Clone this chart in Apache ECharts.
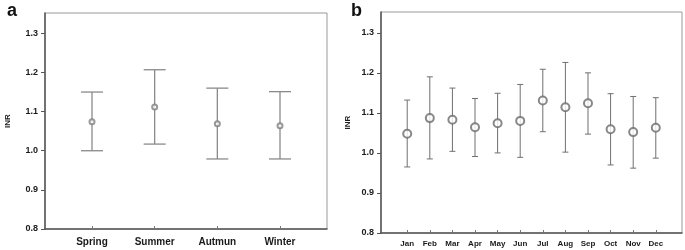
<!DOCTYPE html>
<html>
<head>
<meta charset="utf-8">
<script src="https://cdn.jsdelivr.net/npm/echarts@6/dist/echarts.min.js"></script>
<style>
    html, body { margin: 0; padding: 0; background: #fff; }
    #main { width: 685px; height: 250px; }
</style>
</head>
<body>
<div id="main"></div>
<script>
    // panel a - seasons
    const seasons = ['Spring', 'Summer', 'Autmun', 'Winter'];
    const seasonMean = [1.074, 1.112, 1.069, 1.064];
    const seasonLow = [1.000, 1.017, 0.979, 0.979];
    const seasonHigh = [1.150, 1.207, 1.160, 1.151];

    // panel b - months
    const months = ['Jan', 'Feb', 'Mar', 'Apr', 'May', 'Jun', 'Jul', 'Aug', 'Sep', 'Oct', 'Nov', 'Dec'];
    const monthMean = [1.048, 1.087, 1.083, 1.064, 1.074, 1.080, 1.131, 1.114, 1.124, 1.059, 1.052, 1.063];
    const monthLow = [0.965, 0.985, 1.004, 0.991, 1.000, 0.989, 1.053, 1.002, 1.047, 0.970, 0.962, 0.987];
    const monthHigh = [1.132, 1.190, 1.162, 1.136, 1.149, 1.171, 1.209, 1.226, 1.200, 1.148, 1.141, 1.138];

    const yTicks = [0.8, 0.9, 1.0, 1.1, 1.2, 1.3];

    const font = 'Liberation Sans, Arial, sans-serif';

    function idx(arr) {
        return arr.map((_, i) => i + 1);
    }

    function errData(low, high) {
        return low.map((l, i) => [i + 1, l, high[i]]);
    }

    function meanData(mean) {
        return mean.map((m, i) => [i + 1, m]);
    }

    function errRender(capHalf, color, width) {
        return function (params, api) {
            const x = api.value(0);
            const top = api.coord([x, api.value(2)]);
            const bot = api.coord([x, api.value(1)]);
            const style = { stroke: color, lineWidth: width };
            return {
                type: 'group',
                children: [
                    { type: 'line', shape: { x1: top[0], y1: top[1], x2: bot[0], y2: bot[1] }, style: style },
                    { type: 'line', shape: { x1: top[0] - capHalf, y1: top[1], x2: top[0] + capHalf, y2: top[1] }, style: style },
                    { type: 'line', shape: { x1: bot[0] - capHalf, y1: bot[1], x2: bot[0] + capHalf, y2: bot[1] }, style: style }
                ]
            };
        };
    }

    function xAxisOf(gridIndex, names, min, max, fontSize, margin) {
        return {
            type: 'value',
            gridIndex: gridIndex,
            min: min,
            max: max,
            splitLine: { show: false },
            axisLine: { onZero: false, lineStyle: { color: '#555', width: 1.5 } },
            axisTick: { inside: true, length: 3, customValues: idx(names), lineStyle: { color: '#777' } },
            axisLabel: {
                customValues: idx(names),
                formatter: v => names[Math.round(v) - 1] || '',
                color: '#1a1a1a',
                fontFamily: font,
                fontWeight: 'bold',
                fontSize: fontSize,
                margin: margin
            }
        };
    }

    function yAxisOf(gridIndex, nameGap) {
        return {
            type: 'value',
            gridIndex: gridIndex,
            min: 0.8,
            max: 1.352,
            name: 'INR',
            nameLocation: 'middle',
            nameGap: nameGap,
            nameTextStyle: { fontFamily: font, fontWeight: 'bold', fontSize: 8, color: '#1a1a1a' },
            splitLine: { show: false },
            axisLine: { show: true, onZero: false, lineStyle: { color: '#555', width: 1.5 } },
            axisTick: { show: true, length: 4, customValues: yTicks, lineStyle: { color: '#555' } },
            axisLabel: {
                customValues: yTicks,
                formatter: v => v.toFixed(1),
                color: '#1a1a1a',
                fontFamily: font,
                fontWeight: 'bold',
                fontSize: 9,
                margin: 7
            }
        };
    }

    const chart = echarts.init(document.getElementById('main'));
    const option = {
        animation: false,
        backgroundColor: '#fff',
        title: [
            { text: 'a', left: 2, top: -3, textStyle: { fontFamily: font, fontWeight: 'bold', fontSize: 18, color: '#111' } },
            { text: 'b', left: 346, top: -3, textStyle: { fontFamily: font, fontWeight: 'bold', fontSize: 18, color: '#111' } }
        ],
        grid: [
            { left: 45, top: 13, width: 282, height: 216, show: true, borderColor: '#999', borderWidth: 1 },
            { left: 381, top: 12, width: 301, height: 221, show: true, borderColor: '#999', borderWidth: 1 }
        ],
        xAxis: [
            xAxisOf(0, seasons, 0.25, 4.75, 10, 8),
            xAxisOf(1, months, -0.16, 13.16, 8, 7)
        ],
        yAxis: [
            yAxisOf(0, 33),
            yAxisOf(1, 29)
        ],
        series: [
            {
                type: 'custom',
                xAxisIndex: 0,
                yAxisIndex: 0,
                renderItem: errRender(11, '#8a8a8a', 1.3),
                data: errData(seasonLow, seasonHigh),
                z: 2
            },
            {
                type: 'scatter',
                xAxisIndex: 0,
                yAxisIndex: 0,
                symbol: 'emptyCircle',
                symbolSize: 5,
                itemStyle: { color: '#808080', borderWidth: 0.9 },
                data: meanData(seasonMean),
                z: 3
            },
            {
                type: 'custom',
                xAxisIndex: 1,
                yAxisIndex: 1,
                renderItem: errRender(3, '#707070', 1),
                data: errData(monthLow, monthHigh),
                z: 2
            },
            {
                type: 'scatter',
                xAxisIndex: 1,
                yAxisIndex: 1,
                symbol: 'emptyCircle',
                symbolSize: 8,
                itemStyle: { color: '#6a6a6a', borderWidth: 0.8 },
                data: meanData(monthMean),
                z: 3
            }
        ]
    };
    chart.setOption(option);
</script>
</body>
</html>
